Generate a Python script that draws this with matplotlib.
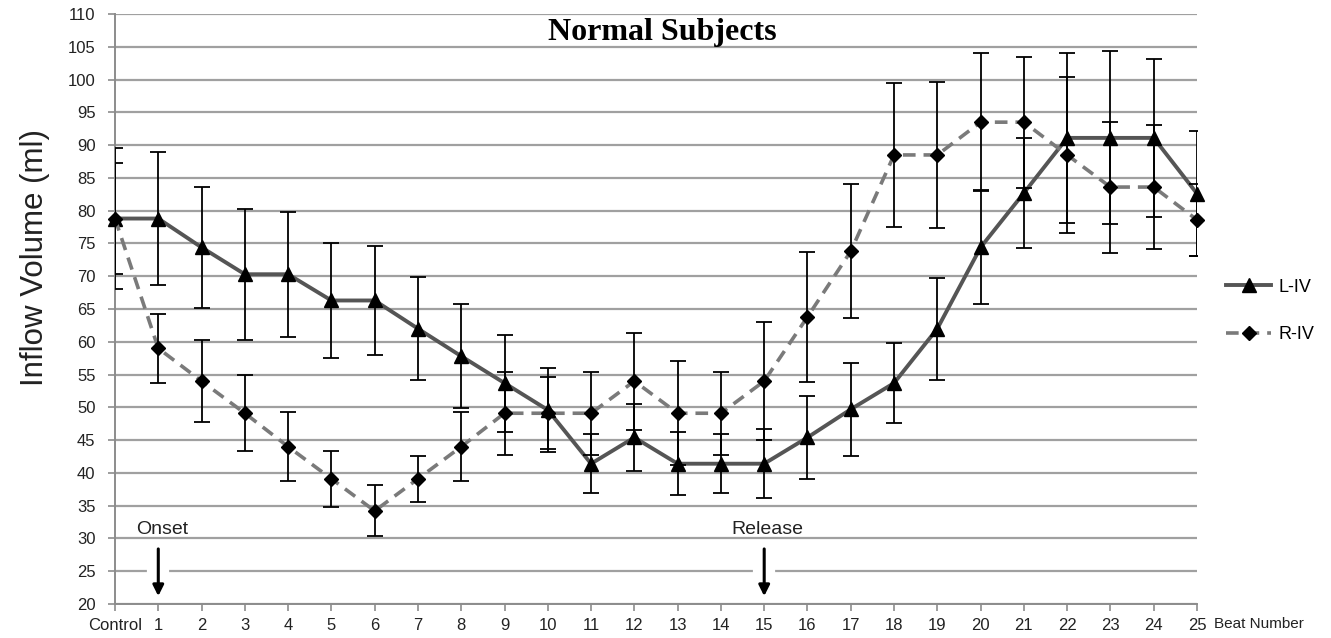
import matplotlib
matplotlib.use("Agg")
import matplotlib.pyplot as plt
import numpy as np

# beat positions: 0 = Control, then beats 1..25
beats = list(range(26))
beat_labels = ["Control"] + [str(i) for i in range(1, 26)]

l_iv = [78.8, 78.8, 74.4, 70.3, 70.3, 66.3, 66.3, 62.0, 57.8, 53.7, 49.6, 41.4, 45.4,
        41.4, 41.4, 41.4, 45.4, 49.7, 53.7, 62.0, 74.4, 82.7, 91.1, 91.1, 91.1, 82.6]
l_iv_err = [10.8, 10.1, 9.2, 10.0, 9.5, 8.7, 8.3, 7.9, 7.9, 7.4, 6.4, 4.5, 5.1,
            4.8, 4.5, 5.3, 6.3, 7.1, 6.1, 7.8, 8.7, 8.4, 13.0, 13.2, 12.0, 9.5]

r_iv = [78.8, 59.0, 54.0, 49.1, 44.0, 39.1, 34.2, 39.1, 44.0, 49.1, 49.1, 49.1, 54.0,
        49.1, 49.1, 54.0, 63.8, 73.8, 88.5, 88.5, 93.5, 93.5, 88.5, 83.6, 83.6, 78.6]
r_iv_err = [8.4, 5.3, 6.3, 5.8, 5.3, 4.3, 3.9, 3.5, 5.3, 6.3, 5.5, 6.3, 7.4,
            7.9, 6.3, 9.0, 9.9, 10.2, 11.0, 11.2, 10.5, 10.0, 11.9, 10.0, 9.4, 5.5]

events = [("Onset", 1), ("Release", 15)]

W, H = 1331, 638
fig = plt.figure(figsize=(W / 100, H / 100), dpi=100)
ax = fig.add_axes([115 / W, 1 - 604 / H, (1197 - 115) / W, 590 / H])
font = "Liberation Sans"

grid_col = "#a0a0a0"
ax.set_xlim(0, 25)
ax.set_ylim(20, 110)
ax.set_yticks(np.arange(20, 111, 5))
ax.yaxis.grid(True, color=grid_col, lw=1.6)
ax.set_axisbelow(True)
for s in ["top", "right"]:
    ax.spines[s].set_visible(False)
for s in ["left", "bottom"]:
    ax.spines[s].set_color("#8c8c8c")
    ax.spines[s].set_linewidth(1.4)

ax.set_xticks(beats)
ax.set_xticklabels(beat_labels)
ax.tick_params(axis="both", direction="out", length=5, width=1.2, color="#8c8c8c",
               labelcolor="#222222")
ax.tick_params(axis="x", pad=5)
ax.tick_params(axis="y", pad=9)
for lab in ax.get_xticklabels() + ax.get_yticklabels():
    lab.set_family(font)
    lab.set_fontsize(12)

# lines with markers
l1, = ax.plot(beats, l_iv, color="#555555", lw=2.8, marker="^", ms=10,
              mfc="black", mec="black", label="L-IV", zorder=3, clip_on=False)
l2, = ax.plot(beats, r_iv, color="#7a7a7a", lw=2.6, ls=(0, (3.5, 2.2)), marker="D", ms=7.5,
              mfc="black", mec="black", label="R-IV", zorder=3, clip_on=False)

ax.errorbar(beats, l_iv, yerr=l_iv_err, fmt="none", ecolor="black", elinewidth=1.3,
            capsize=5.5, capthick=1.3, zorder=4)
ax.errorbar(beats, r_iv, yerr=r_iv_err, fmt="none", ecolor="black", elinewidth=1.3,
            capsize=5.5, capthick=1.3, zorder=4)

# event markers
for name, b in events:
    ax.plot([b, b], [24.0, 26.0], color="white", lw=16, zorder=2, solid_capstyle="butt")
    ax.annotate("", xy=(b, 21.2), xytext=(b, 28.4),
                arrowprops=dict(arrowstyle="-|>", color="black", lw=2.2,
                                mutation_scale=16, shrinkA=0, shrinkB=0), zorder=5)
    ax.text(b + 0.08, 31.4, name, ha="center", va="center", fontsize=14,
            family=font, color="#222222")

ax.text(0.506, 0.969, "Normal Subjects", transform=ax.transAxes, ha="center", va="center",
        fontsize=23, fontweight="bold", family="Liberation Serif")

fig.text(35 / W, 1 - 258 / H, "Inflow Volume (ml)", rotation=90, ha="center", va="center",
         fontsize=22.5, family=font, color="#222222")
fig.text(1214 / W, 1 - 624 / H, "Beat Number", ha="left", va="center", fontsize=11,
         family=font, color="#222222")

fig.legend(handles=[l1, l2], loc="center left", bbox_to_anchor=(1226 / W, 1 - 311 / H),
           frameon=False, handlelength=2.5, labelspacing=1.7, handletextpad=0.4,
           borderaxespad=0, borderpad=0,
           prop={"family": font, "size": 13})

fig.savefig("out.png", dpi=100)
